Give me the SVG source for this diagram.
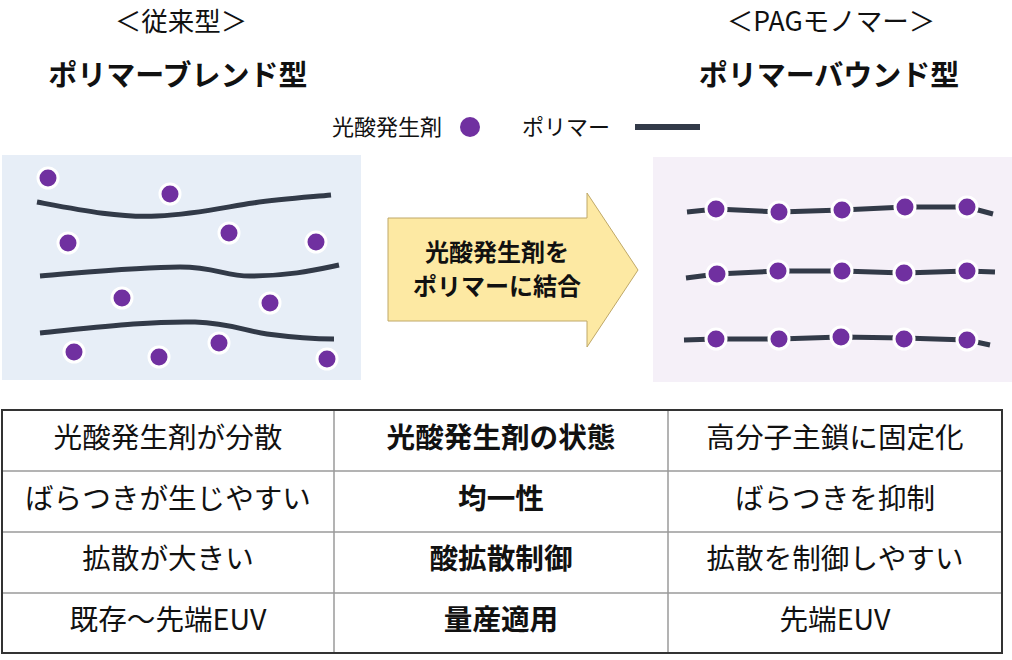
<svg xmlns="http://www.w3.org/2000/svg" width="1012" height="660" viewBox="0 0 1012 660">
<style>
text{font-family:"Noto Sans CJK JP","Noto Sans",sans-serif;fill:#111;text-anchor:middle}
.h1{font-size:26.5px}
.h2{font-size:29px;font-weight:bold}
.lg{font-size:22px;text-anchor:start}
.ar{font-size:24px;font-weight:bold}
.td{font-size:28.6px}
.tb{font-size:28.6px;font-weight:bold}
.poly{fill:none;stroke:#323a48;stroke-width:5;stroke-linecap:butt}
.pag{fill:#7030a0;stroke:#fff;stroke-width:3}
.grid{stroke:#9a9a9a;stroke-width:1.5}
</style>
<rect width="1012" height="660" fill="#fff"/>
<g id="titles">
<text class="h1" x="181" y="31">＜従来型＞</text>
<text class="h2" x="178" y="86">ポリマーブレンド型</text>
<text class="h1" x="831" y="31">＜PAGモノマー＞</text>
<text class="h2" x="829" y="86">ポリマーバウンド型</text>
</g>
<g id="legend">
<text class="lg" x="332" y="135">光酸発生剤</text>
<circle cx="470" cy="127" r="10" fill="#7030a0"/>
<text class="lg" x="522" y="135">ポリマー</text>
<line x1="635" y1="127" x2="700" y2="127" stroke="#323a48" stroke-width="6"/>
</g>
<g id="blend-panel">
<rect x="2" y="155" width="359" height="225" fill="#e7eef7"/>
<path class="poly" d="M37,202 C80,210 120,218 157,216 C200,214 230,206 253,203 C280,199 310,197 331,195"/>
<path class="poly" d="M40,276 C90,272 140,267 180,267 C215,267 225,276 250,276 C290,276 315,270 339,265"/>
<path class="poly" d="M40,333 C100,327 150,321 195,322 C230,323 245,331 267,334 C290,337 315,339 334,339"/>
<circle class="pag" cx="48" cy="178" r="10"/>
<circle class="pag" cx="170" cy="194" r="10"/>
<circle class="pag" cx="68" cy="243" r="10"/>
<circle class="pag" cx="229" cy="233" r="10"/>
<circle class="pag" cx="316" cy="242" r="10"/>
<circle class="pag" cx="122" cy="298" r="10"/>
<circle class="pag" cx="270" cy="303" r="10"/>
<circle class="pag" cx="74" cy="352" r="10"/>
<circle class="pag" cx="159" cy="357" r="10"/>
<circle class="pag" cx="219" cy="343" r="10"/>
<circle class="pag" cx="327" cy="359" r="10"/>
</g>
<g id="bound-panel">
<rect x="653" y="157" width="359" height="225" fill="#f5f0f8"/>
<path class="poly" d="M687,212 L716,209 L779,212 L842,210 L905,207 L967,207 L993,214"/>
<path class="poly" d="M686,278 L717,274 L778,271 L842,271 L904,273 L967,271 L995,272"/>
<path class="poly" d="M684,340 L716,339 L779,339 L841,337 L904,338 L967,340 L990,345"/>
<circle class="pag" cx="716" cy="209" r="10"/>
<circle class="pag" cx="779" cy="212" r="10"/>
<circle class="pag" cx="842" cy="210" r="10"/>
<circle class="pag" cx="905" cy="207" r="10"/>
<circle class="pag" cx="967" cy="207" r="10"/>
<circle class="pag" cx="717" cy="274" r="10"/>
<circle class="pag" cx="778" cy="271" r="10"/>
<circle class="pag" cx="842" cy="271" r="10"/>
<circle class="pag" cx="904" cy="273" r="10"/>
<circle class="pag" cx="967" cy="271" r="10"/>
<circle class="pag" cx="716" cy="339" r="10"/>
<circle class="pag" cx="779" cy="339" r="10"/>
<circle class="pag" cx="841" cy="337" r="10"/>
<circle class="pag" cx="904" cy="339" r="10"/>
<circle class="pag" cx="967" cy="340" r="10"/>
</g>
<g id="arrow">
<path d="M388,218 L587,218 L587,193 L638,270 L587,347 L587,321 L388,321 Z" fill="#fde9a3" stroke="#bfa868" stroke-width="1"/>
<text class="ar" x="497" y="261">光酸発生剤を</text>
<text class="ar" x="497" y="295">ポリマーに結合</text>
</g>
<g id="table">
<rect x="2" y="410" width="1000" height="243" fill="#fff"/>
<line class="grid" x1="2" y1="471" x2="1002" y2="471"/>
<line class="grid" x1="2" y1="532" x2="1002" y2="532"/>
<line class="grid" x1="2" y1="593" x2="1002" y2="593"/>
<line class="grid" x1="334" y1="410" x2="334" y2="653"/>
<line class="grid" x1="668" y1="410" x2="668" y2="653"/>
<rect x="2" y="410" width="1000" height="243" fill="none" stroke="#333" stroke-width="2"/>
<text class="td" x="168" y="448">光酸発生剤が分散</text>
<text class="tb" x="501" y="448">光酸発生剤の状態</text>
<text class="td" x="835" y="448">高分子主鎖に固定化</text>
<text class="td" x="168" y="509">ばらつきが生じやすい</text>
<text class="tb" x="501" y="509">均一性</text>
<text class="td" x="835" y="509">ばらつきを抑制</text>
<text class="td" x="168" y="569">拡散が大きい</text>
<text class="tb" x="501" y="569">酸拡散制御</text>
<text class="td" x="835" y="569">拡散を制御しやすい</text>
<text class="td" x="168" y="630">既存～先端EUV</text>
<text class="tb" x="501" y="630">量産適用</text>
<text class="td" x="835" y="630">先端EUV</text>
</g>
</svg>
